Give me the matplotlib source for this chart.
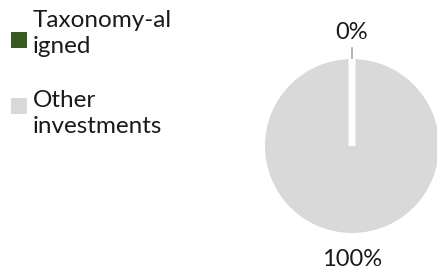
import matplotlib.pyplot as plt
import numpy as np
from matplotlib.patches import Rectangle

categories = ["Taxonomy-al\nigned", "Other\ninvestments"]
shares = [0, 100]
pct_labels = ["0%", "100%"]
colors = ["#3a5a24", "#d9d9d9"]

plt.rcParams['font.family'] = ['Lato', 'DejaVu Sans']
TXT = "#1a1a1a"

fig = plt.figure(figsize=(4.37, 2.71), dpi=100)
W, H = 437, 271
cx, cy, r = 352, 146, 87
ax = fig.add_axes([(cx - r) / W, (H - cy - r) / H, 2 * r / W, 2 * r / H])

wedges, _ = ax.pie(shares, colors=colors, startangle=90, counterclock=False,
                   radius=1, wedgeprops=dict(linewidth=0))
ax.set_xlim(-1, 1)
ax.set_ylim(-1, 1)

for w, lab, val in zip(wedges, pct_labels, shares):
    mid = np.deg2rad((w.theta1 + w.theta2) / 2)
    if val == 0:
        # zero slice shows up as a white gap plus a leader line
        w.set_edgecolor("white")
        w.set_linewidth(5)
        w.set_capstyle("butt")
        w.set_joinstyle("bevel")
        w.set_zorder(3)
        ax.plot([np.cos(mid) * 1.0, np.cos(mid) * 1.13],
                [np.sin(mid) * 1.0, np.sin(mid) * 1.13],
                color="#a6a6a6", lw=1.2, clip_on=False)
    ax.text(np.cos(mid) * 1.3, np.sin(mid) * 1.3, lab, ha="center", va="center",
            fontsize=17, color=TXT, clip_on=False)

# legend drawn by hand (square markers sit off-centre like in the original)
for i, (c, lab) in enumerate(zip(colors, categories)):
    sq_top = 32 + 66 * i
    fig.add_artist(Rectangle((11 / W, 1 - (sq_top + 16) / H), 16 / W, 16 / H,
                             transform=fig.transFigure, facecolor=c,
                             edgecolor="none"))
    # baseline of the last line of each label
    fig.text(33 / W, 1 - (53 + 80 * i) / H, lab, ha="left", va="baseline",
             fontsize=17.5, color=TXT, linespacing=1.3)

fig.savefig("out.png", dpi=100)
